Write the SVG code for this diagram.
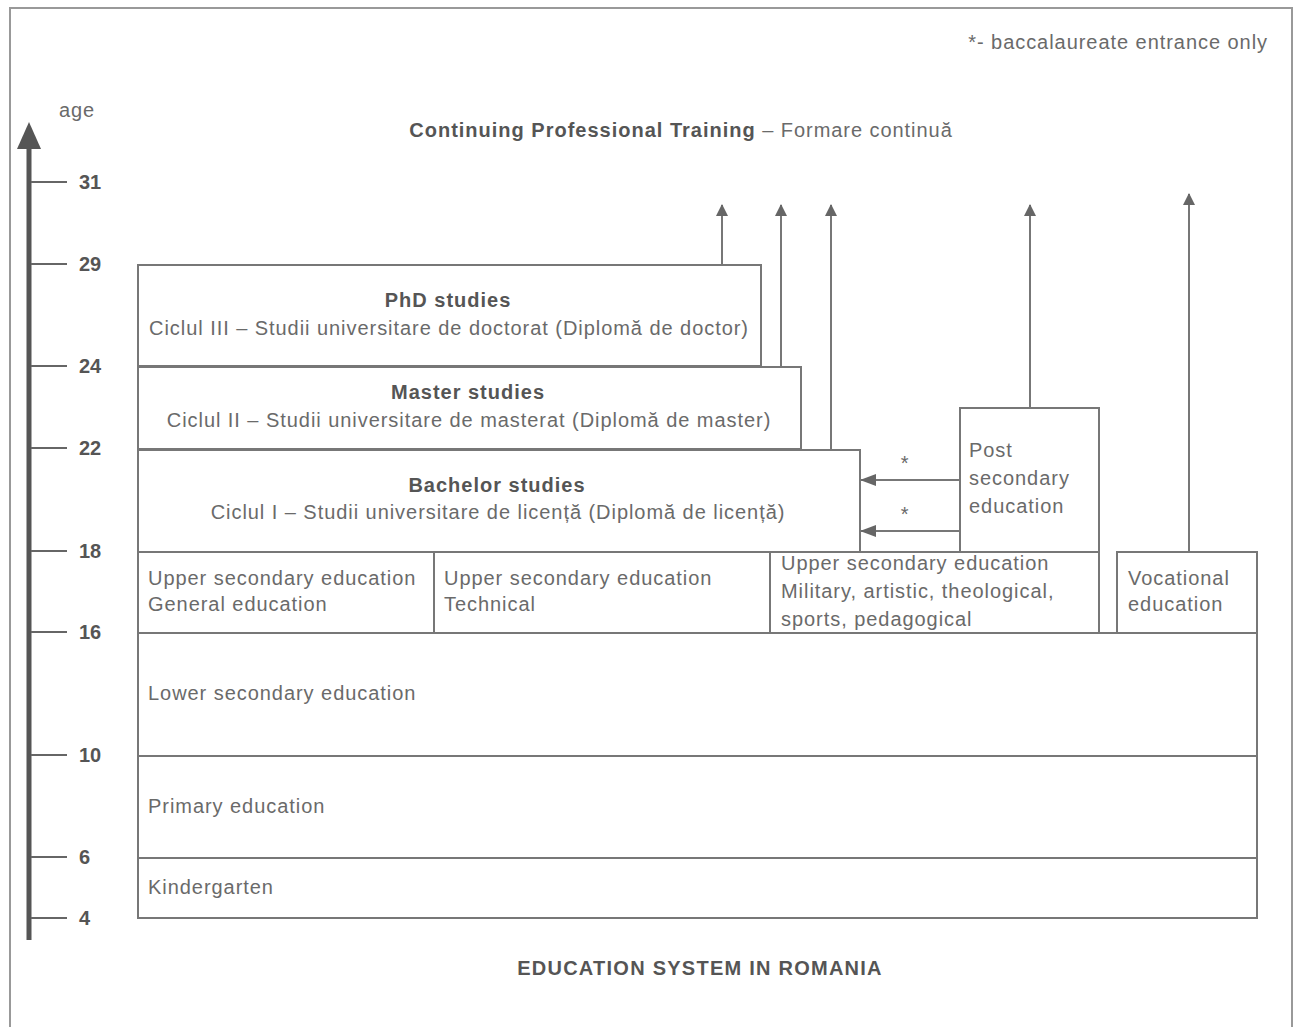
<svg xmlns="http://www.w3.org/2000/svg" width="1295" height="1027" viewBox="0 0 1295 1027">
<style>
.box{fill:#fff;stroke:#777;stroke-width:2}
.t{font-family:"Liberation Sans",Arial,sans-serif;font-size:20px;fill:#6a6a6a;letter-spacing:0.95px}
.b{font-family:"Liberation Sans",Arial,sans-serif;font-size:20px;font-weight:bold;fill:#555;letter-spacing:1px}
.num{font-family:"Liberation Sans",Arial,sans-serif;font-size:20px;font-weight:bold;fill:#555}
.ln{stroke:#777;stroke-width:2;fill:none}
.tick{stroke:#666;stroke-width:2}
</style>
<defs>
<marker id="ah" markerWidth="12" markerHeight="12" refX="11" refY="6" orient="auto" markerUnits="userSpaceOnUse" viewBox="0 0 12 12">
<path d="M0,0 L12,6 L0,12 z" fill="#666"/>
</marker>
<marker id="ah2" markerWidth="16" markerHeight="12" refX="15" refY="6" orient="auto" markerUnits="userSpaceOnUse" viewBox="0 0 16 12">
<path d="M0,0 L16,6 L0,12 z" fill="#666"/>
</marker>
</defs>
<rect x="0" y="0" width="1295" height="1027" fill="#fff"/>
<path d="M10,1027 L10,8 L1292,8 L1292,1027" fill="none" stroke="#999" stroke-width="2"/>
<text class="t" x="1268" y="49" text-anchor="end" font-size="19">*- baccalaureate entrance only</text>
<g id="axis">
<line x1="29" y1="940" x2="29" y2="140" stroke="#555" stroke-width="5"/>
<path d="M17,149 L29,122 L41,149 z" fill="#555"/>
<text class="t" x="77" y="117" text-anchor="middle">age</text>
<line class="tick" x1="31" y1="182" x2="67" y2="182"/><text class="num" x="79" y="189">31</text>
<line class="tick" x1="31" y1="264" x2="67" y2="264"/><text class="num" x="79" y="271">29</text>
<line class="tick" x1="31" y1="366" x2="67" y2="366"/><text class="num" x="79" y="373">24</text>
<line class="tick" x1="31" y1="448" x2="67" y2="448"/><text class="num" x="79" y="455">22</text>
<line class="tick" x1="31" y1="551" x2="67" y2="551"/><text class="num" x="79" y="558">18</text>
<line class="tick" x1="31" y1="632" x2="67" y2="632"/><text class="num" x="79" y="639">16</text>
<line class="tick" x1="31" y1="755" x2="67" y2="755"/><text class="num" x="79" y="762">10</text>
<line class="tick" x1="31" y1="857" x2="67" y2="857"/><text class="num" x="79" y="864">6</text>
<line class="tick" x1="31" y1="918" x2="67" y2="918"/><text class="num" x="79" y="925">4</text>
</g>
<text x="681" y="137" text-anchor="middle" class="t"><tspan class="b">Continuing Professional Training</tspan> – Formare continuă</text>
<g id="connectors">
<line class="ln" x1="722" y1="265" x2="722" y2="205" marker-end="url(#ah)"/>
<line class="ln" x1="781" y1="367" x2="781" y2="205" marker-end="url(#ah)"/>
<line class="ln" x1="831" y1="450" x2="831" y2="205" marker-end="url(#ah)"/>
<line class="ln" x1="1030" y1="408" x2="1030" y2="205" marker-end="url(#ah)"/>
<line class="ln" x1="1189" y1="552" x2="1189" y2="194" marker-end="url(#ah)"/>
<line class="ln" x1="960" y1="480" x2="861" y2="480" marker-end="url(#ah2)"/>
<line class="ln" x1="960" y1="531" x2="861" y2="531" marker-end="url(#ah2)"/>
<text class="t" x="905" y="470" text-anchor="middle" font-size="16">*</text>
<text class="t" x="905" y="521" text-anchor="middle" font-size="16">*</text>
</g>
<g id="phd">
<rect class="box" x="138" y="265" width="623" height="101"/>
<text class="b" x="448" y="307" text-anchor="middle">PhD studies</text>
<text class="t" x="449" y="335" text-anchor="middle">Ciclul III  – Studii universitare de doctorat (Diplomă de doctor)</text>
</g>
<g id="master">
<rect class="box" x="138" y="367" width="663" height="82"/>
<text class="b" x="468" y="399" text-anchor="middle">Master studies</text>
<text class="t" x="469" y="427" text-anchor="middle">Ciclul II  – Studii universitare de masterat (Diplomă de master)</text>
</g>
<g id="bachelor">
<rect class="box" x="138" y="450" width="722" height="102"/>
<text class="b" x="497" y="492" text-anchor="middle">Bachelor studies</text>
<text class="t" x="498" y="519" text-anchor="middle">Ciclul I – Studii universitare de licență (Diplomă de licență)</text>
</g>
<g id="postsecondary">
<rect class="box" x="960" y="408" width="139" height="144"/>
<text class="t" x="969" y="457">Post</text>
<text class="t" x="969" y="485">secondary</text>
<text class="t" x="969" y="513">education</text>
</g>
<g id="upper-general">
<rect class="box" x="138" y="552" width="296" height="81"/>
<text class="t" x="148" y="585">Upper secondary education</text>
<text class="t" x="148" y="611">General education</text>
</g>
<g id="upper-technical">
<rect class="box" x="434" y="552" width="336" height="81"/>
<text class="t" x="444" y="585">Upper secondary education</text>
<text class="t" x="444" y="611">Technical</text>
</g>
<g id="upper-military">
<rect class="box" x="770" y="552" width="329" height="81"/>
<text class="t" x="781" y="570">Upper secondary education</text>
<text class="t" x="781" y="598">Military, artistic, theological,</text>
<text class="t" x="781" y="626">sports, pedagogical</text>
</g>
<g id="vocational">
<rect class="box" x="1117" y="552" width="140" height="81"/>
<text class="t" x="1128" y="585">Vocational</text>
<text class="t" x="1128" y="611">education</text>
</g>
<g id="lower-secondary">
<rect class="box" x="138" y="633" width="1119" height="123"/>
<text class="t" x="148" y="700">Lower secondary education</text>
</g>
<g id="primary">
<rect class="box" x="138" y="756" width="1119" height="102"/>
<text class="t" x="148" y="813">Primary education</text>
</g>
<g id="kindergarten">
<rect class="box" x="138" y="858" width="1119" height="60"/>
<text class="t" x="148" y="894">Kindergarten</text>
</g>
<text class="b" x="700" y="975" text-anchor="middle" style="letter-spacing:1.25px">EDUCATION SYSTEM IN ROMANIA</text>
</svg>
